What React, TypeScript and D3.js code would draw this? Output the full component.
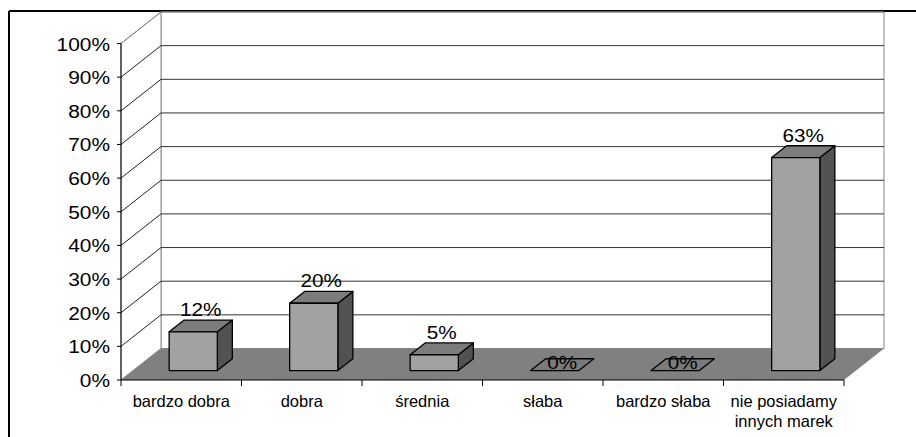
import React from "react";
import * as d3 from "d3";

const categories = [
  "bardzo dobra",
  "dobra",
  "średnia",
  "słaba",
  "bardzo słaba",
  "nie posiadamy\ninnych marek",
];
const values = [0.115, 0.2, 0.047, 0, 0, 0.633];
const valueLabels = ["12%", "20%", "5%", "0%", "0%", "63%"];
const yTicks = [0, 0.1, 0.2, 0.3, 0.4, 0.5, 0.6, 0.7, 0.8, 0.9, 1.0];

const FONT = "'Liberation Sans', Arial, Helvetica, sans-serif";

export default function App() {
  const W = 916;
  const H = 437;
  const x = d3.scaleBand<string>().domain(categories).range([121, 844]).paddingInner(0);
  const y = d3.scaleLinear().domain([0, 1]).range([380, 43.5]);
  const DX = 40;
  const DY = 31.5;
  const p = (px: number, py: number, d: number): [number, number] => [px + d * DX, py - d * DY];
  const pts = (arr: [number, number][]) => arr.map((q) => q.join(",")).join(" ");
  const fmt = d3.format(".0%");

  const x0 = x.range()[0];
  const x1 = x.range()[1];
  const d0 = 0.3;
  const d1 = 0.675;
  const dm = (d0 + d1) / 2;
  const bw = x.bandwidth() * 0.4;

  return (
    <svg
      width={W}
      height={H}
      style={{ position: "absolute", left: 0, top: 0, background: "#fff" }}
      fontFamily={FONT}
    >
      {/* outer border */}
      <line x1={9} y1={11} x2={916} y2={11} stroke="#000" strokeWidth={2} />
      <line x1={9} y1={11} x2={9} y2={437} stroke="#000" strokeWidth={2} />

      {/* back wall */}
      <polygon
        points={pts([p(x0, y(1), 1), p(x1, y(1), 1), p(x1, y(0), 1), p(x0, y(0), 1)])}
        fill="#fff"
        stroke="#888"
        strokeWidth={1}
      />
      {/* left wall */}
      <polygon
        points={pts([p(x0, y(0), 0), p(x0, y(1), 0), p(x0, y(1), 1), p(x0, y(0), 1)])}
        fill="#fff"
        stroke="#888"
        strokeWidth={1}
      />
      {/* gridlines */}
      {yTicks.slice(1).map((t) => {
        const a = p(x0, y(t), 1);
        const b = p(x1, y(t), 1);
        const f = p(x0, y(t), 0);
        return (
          <g key={`g${t}`}>
            <line x1={a[0]} y1={a[1]} x2={b[0]} y2={b[1]} stroke={t === 1 ? "#888" : "#333"} strokeWidth={1} />
            <line x1={f[0]} y1={f[1]} x2={a[0]} y2={a[1]} stroke={t === 1 ? "#888" : "#222"} strokeWidth={1} />
          </g>
        );
      })}
      {/* floor */}
      <polygon
        points={pts([p(x0, y(0), 0), p(x1, y(0), 0), p(x1, y(0), 1), p(x0, y(0), 1)])}
        fill="#808080"
        stroke="none"
      />

      {/* bars */}
      {categories.map((c, i) => {
        const v = values[i];
        const cx = (x(c) as number) + x.bandwidth() / 2;
        const l = cx - bw / 2;
        const r = cx + bw / 2;
        if (v === 0) {
          return (
            <polygon
              key={c}
              points={pts([p(l, y(0), d0), p(r, y(0), d0), p(r, y(0), d1), p(l, y(0), d1)])}
              fill="#7a7a7a"
              stroke="#000"
              strokeWidth={1.3}
              strokeLinejoin="round"
            />
          );
        }
        const front = [p(l, y(0), d0), p(r, y(0), d0), p(r, y(v), d0), p(l, y(v), d0)] as [number, number][];
        const top = [p(l, y(v), d0), p(r, y(v), d0), p(r, y(v), d1), p(l, y(v), d1)] as [number, number][];
        const side = [p(r, y(0), d0), p(r, y(0), d1), p(r, y(v), d1), p(r, y(v), d0)] as [number, number][];
        return (
          <g key={c} stroke="#000" strokeWidth={1.3} strokeLinejoin="round">
            <polygon points={pts(side)} fill="#525252" />
            <polygon points={pts(top)} fill="#7c7c7c" />
            <polygon points={pts(front)} fill="#a2a2a2" />
          </g>
        );
      })}

      {/* value labels */}
      {categories.map((c, i) => {
        const v = values[i];
        const cx = (x(c) as number) + x.bandwidth() / 2;
        const pt = v === 0 ? p(cx, y(0), dm) : p(cx, y(v), dm);
        const by = v === 0 ? y(0) - dm * DY + 4 : y(v) - d1 * DY - 4;
        return (
          <text
            key={`v${c}`}
            transform={`translate(${pt[0]},${by}) scale(1.12,1)`}
            textAnchor="middle"
            fontSize={18.5}
            fill="#000"
          >
            {valueLabels[i]}
          </text>
        );
      })}

      {/* value axis */}
      <line x1={x0} y1={y(0)} x2={x0} y2={y(1)} stroke="#000" strokeWidth={1} />
      {yTicks.map((t) => (
        <g key={`t${t}`}>
          <line x1={x0 - 4} y1={y(t)} x2={x0} y2={y(t)} stroke="#000" strokeWidth={1} />
          <text
            transform={`translate(110,${y(t) + 7}) scale(1.13,1)`}
            textAnchor="end"
            fontSize={18.5}
            fill="#000"
          >
            {fmt(t)}
          </text>
        </g>
      ))}

      {/* category axis */}
      <line x1={x0} y1={y(0)} x2={x1} y2={y(0)} stroke="#000" strokeWidth={1} />
      {categories.map((c) => (
        <line
          key={`ct${c}`}
          x1={x(c) as number}
          y1={y(0)}
          x2={x(c) as number}
          y2={y(0) + 6}
          stroke="#000"
          strokeWidth={1}
        />
      ))}
      <line x1={x1} y1={y(0)} x2={x1} y2={y(0) + 6} stroke="#000" strokeWidth={1} />
      {categories.map((c) => {
        const cx = (x(c) as number) + x.bandwidth() / 2;
        const lines = c.split("\n");
        return (
          <text key={`cl${c}`} x={cx} y={407.3} textAnchor="middle" fontSize={16.5} fill="#000">
            {lines.map((ln, k) => (
              <tspan key={k} x={cx} dy={k === 0 ? 0 : 19.5}>
                {ln}
              </tspan>
            ))}
          </text>
        );
      })}
    </svg>
  );
}
